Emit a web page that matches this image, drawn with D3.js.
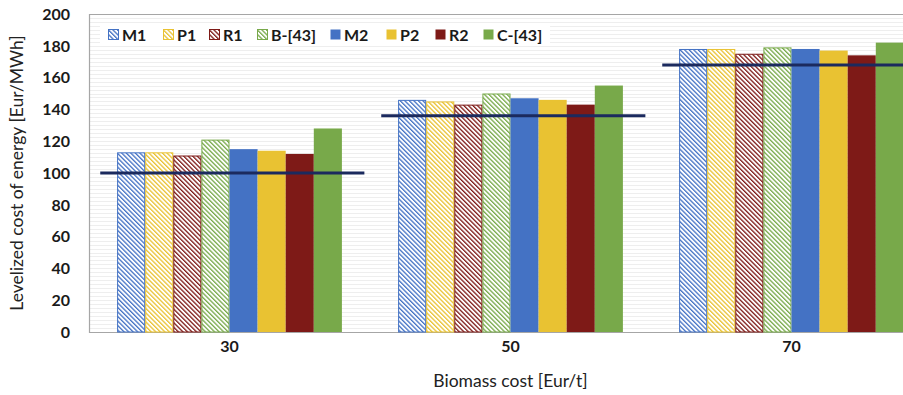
<!DOCTYPE html>
<html>
<head>
<meta charset="utf-8">
<title>LCOE vs biomass cost</title>
<script src="https://d3js.org/d3.v7.min.js"></script>
<style>
  body { margin: 0; background: #fff; }
  svg text { font-family: Lato, "Open Sans", sans-serif; fill: #1a1a1a; }
  .tick-lbl { font-size: 16px; font-weight: bold; }
  .axis-title { font-size: 17.5px; fill: #222; }
  .legend-lbl { font-size: 16px; font-weight: bold; }
</style>
</head>
<body>
<div id="chart"></div>
<script>
// data
const categories = ["30", "50", "70"];
const seriesNames = ["M1", "P1", "R1", "B-[43]", "M2", "P2", "R2", "C-[43]"];
const M1 = [113, 146, 178];
const P1 = [113, 145, 178];
const R1 = [111, 143, 175];
const B43 = [121, 150, 179];
const M2 = [115, 147, 178];
const P2 = [114, 146, 177];
const R2 = [112, 143, 174];
const C43 = [128, 155, 182];
const refLine = [100, 136, 168];
const yTicks = [0, 20, 40, 60, 80, 100, 120, 140, 160, 180, 200];

const seriesValues = [M1, P1, R1, B43, M2, P2, R2, C43];
const seriesColor = ["#4472c4", "#e9c232", "#7e1a17", "#78a94a", "#4472c4", "#e9c232", "#7e1a17", "#78a94a"];
const hatched = [true, true, true, true, false, false, false, false];

const W = 903, H = 395;
const plot = {left: 89, top: 14, right: 932, bottom: 332};

const svg = d3.select("#chart").append("svg")
  .attr("width", W).attr("height", H);

// hatch patterns, one per colour
const defs = svg.append("defs");
seriesNames.forEach((s, i) => {
  if (!hatched[i]) return;
  const p = defs.append("pattern")
    .attr("id", "hatch" + i)
    .attr("patternUnits", "userSpaceOnUse")
    .attr("width", 3.2).attr("height", 3.2)
    .attr("patternTransform", "rotate(-45)");
  p.append("rect").attr("width", 3.2).attr("height", 3.2).attr("fill", "#fff");
  p.append("rect").attr("x", 0).attr("width", 1.3).attr("height", 3.2).attr("fill", seriesColor[i]);
});
function fillOf(i) { return hatched[i] ? "url(#hatch" + i + ")" : seriesColor[i]; }

const x = d3.scaleBand()
  .domain(categories)
  .range([plot.left, plot.right])
  .paddingInner(0.2)
  .paddingOuter(0.1);
const xSub = d3.scaleBand()
  .domain(seriesNames)
  .range([0, x.bandwidth()]);
const y = d3.scaleLinear().domain([0, 200]).range([plot.bottom, plot.top]);

// faint grid
svg.append("g").selectAll("line")
  .data(d3.range(0, 200.1, 2.5))
  .join("line")
  .attr("x1", plot.left).attr("x2", W)
  .attr("y1", d => Math.round(y(d)) + 0.5).attr("y2", d => Math.round(y(d)) + 0.5)
  .attr("stroke", "#eeeeee").attr("stroke-width", 1);

// plot frame
svg.append("path")
  .attr("d", `M${W},${plot.top + 0.5}H${plot.left + 0.5}V${plot.bottom + 0.5}H${W}`)
  .attr("fill", "none").attr("stroke", "#a6a6a6").attr("stroke-width", 1.2);

// bars
const rows = categories.map((c, ci) => ({cat: c, vals: seriesValues.map((arr, si) => ({si: si, key: seriesNames[si], v: arr[ci]}))}));
svg.append("g").selectAll("g")
  .data(rows)
  .join("g")
  .attr("transform", d => `translate(${x(d.cat)},0)`)
  .selectAll("rect")
  .data(d => d.vals)
  .join("rect")
  .attr("x", d => xSub(d.key) + (hatched[d.si] ? 0.5 : 0))
  .attr("y", d => y(d.v) + (hatched[d.si] ? 0.5 : 0))
  .attr("width", d => xSub.bandwidth() - (hatched[d.si] ? 1 : 0))
  .attr("height", d => y(0) - y(d.v) - (hatched[d.si] ? 0.5 : 0))
  .attr("fill", d => fillOf(d.si))
  .attr("stroke", d => hatched[d.si] ? seriesColor[d.si] : "none")
  .attr("stroke-width", 1);

// reference lines
svg.append("g").selectAll("line")
  .data(categories.map((c, i) => ({cat: c, v: refLine[i]})))
  .join("line")
  .attr("x1", d => x(d.cat) - x.step() * 0.06)
  .attr("x2", d => x(d.cat) + x.bandwidth() + x.step() * 0.08)
  .attr("y1", d => y(d.v)).attr("y2", d => y(d.v))
  .attr("stroke", "#1b2a5e").attr("stroke-width", 3);

// y ticks
svg.append("g").selectAll("text")
  .data(yTicks)
  .join("text")
  .attr("class", "tick-lbl")
  .attr("x", 70).attr("y", d => y(d))
  .attr("dy", "0.36em")
  .attr("text-anchor", "end")
  .text(d => d);

// x ticks
svg.append("g").selectAll("text")
  .data(categories)
  .join("text")
  .attr("class", "tick-lbl")
  .attr("x", d => x(d) + x.bandwidth() / 2)
  .attr("y", 352)
  .attr("text-anchor", "middle")
  .text(d => d);

// axis titles
svg.append("text")
  .attr("class", "axis-title")
  .attr("x", x("50") + x.bandwidth() / 2).attr("y", 387)
  .attr("text-anchor", "middle")
  .text("Biomass cost [Eur/t]");
svg.append("text")
  .attr("class", "axis-title")
  .attr("transform", `translate(23,${(plot.top + plot.bottom) / 2}) rotate(-90)`)
  .attr("text-anchor", "middle")
  .text("Levelized cost of energy [Eur/MWh]");

// legend
const legendX = [108, 163, 209, 257, 330, 386, 435, 483];
const lg = svg.append("g");
lg.append("rect")
  .attr("x", 100).attr("y", 24).attr("width", 450).attr("height", 22)
  .attr("fill", "#fff");
const items = lg.selectAll("g")
  .data(seriesNames)
  .join("g")
  .attr("transform", (d, i) => `translate(${legendX[i]},35)`);
items.append("rect")
  .attr("x", 0.5).attr("y", -5.5).attr("width", 10).attr("height", 10)
  .attr("fill", (d, i) => fillOf(i))
  .attr("stroke", (d, i) => hatched[i] ? seriesColor[i] : "none");
items.append("text")
  .attr("class", "legend-lbl")
  .attr("x", 14).attr("y", 0).attr("dy", "0.36em")
  .text(d => d);
</script>
</body>
</html>
